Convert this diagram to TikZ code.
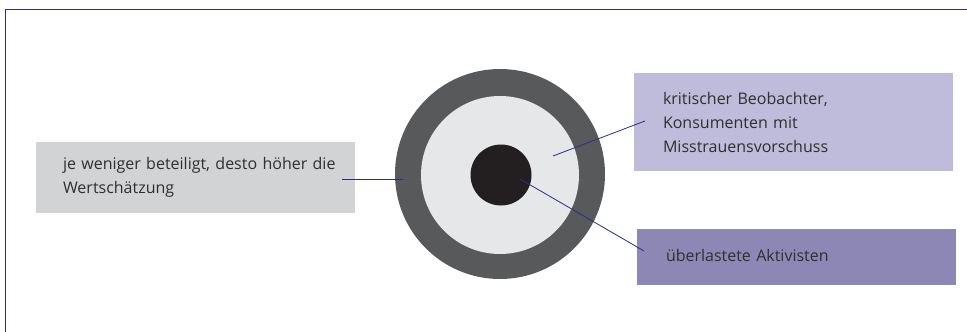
\documentclass[tikz,border=0pt]{standalone}
\usepackage{fontspec}
\setmainfont{Open Sans}
\usepackage{tikz}
\usetikzlibrary{positioning,calc}

\definecolor{rahmen}{HTML}{2D2C86}
\definecolor{ringdunkel}{HTML}{58595B}
\definecolor{ringhell}{HTML}{E6E7E8}
\definecolor{kern}{HTML}{231F20}
\definecolor{grauBox}{HTML}{D1D3D4}
\definecolor{lilaHell}{HTML}{BFBBDA}
\definecolor{lilaDunkel}{HTML}{8D87B5}
\definecolor{schrift}{HTML}{2F2F2F}

\begin{document}
\begin{tikzpicture}[
    x=1pt, y=-1pt,
    feld/.style={inner ysep=0pt, minimum height=#1, align=left, font=\fontsize{16}{24}\selectfont, text=schrift},
    kreis/.style={circle, inner sep=0pt, minimum size=#1},
    zeiger/.style={draw=rahmen, line width=0.8pt}
]
\useasboundingbox (0,0) rectangle (967,332);
\draw[rahmen, line width=1.4pt] (967,9.5) -- (5.5,9.5) -- (5.5,332);

% Zielscheibe
\node[kreis=210, fill=ringdunkel] (aussen) at (500,174) {};
\node[kreis=158, fill=ringhell] (mitte) at (500,175) {};
\node[kreis=61, fill=kern] (kern) at (501,175) {};

% Felder
\node[feld=71, fill=grauBox, text width=265, inner xsep=27] (links) at (195.5,177.5)
    {\mbox{je weniger beteiligt, desto höher die}\\Wertschätzung};
\node[feld=98, fill=lilaHell, text width=261, inner xsep=29] (oben) at (793.5,122)
    {kritischer Beobachter,\\Konsumenten mit\\Misstrauensvorschuss};
\node[feld=56, fill=lilaDunkel, text width=261, inner xsep=29] (unten) at (796.5,257)
    {\raisebox{3pt}{überlastete Aktivisten}};

% Zeiger
\coordinate (lA) at (342,179);
\coordinate (lB) at (403,179);
\coordinate (oA) at (645,121);
\coordinate (oB) at (553,156);
\coordinate (uA) at (644,251);
\coordinate (uB) at (520,179);
\draw[zeiger] (lA) -- (lB);
\draw[zeiger] (oA) -- (oB);
\draw[zeiger] (uA) -- (uB);
\end{tikzpicture}
\end{document}
